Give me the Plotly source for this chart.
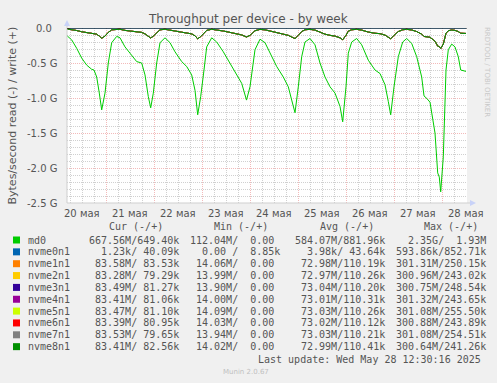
import plotly.graph_objects as go
import pandas as pd

# ---------------- data ----------------
start_time = "2025-05-20 04:30"
end_time = "2025-05-28 12:30"

hours = [0, 2.35, 4.85, 7.35, 9.85, 12.35, 13.5, 14.85, 16.15, 17.35,
         19, 20.65, 22.35, 24.85, 26.5, 29, 31.5, 34.85, 37.35, 39,
         40.65, 41.85, 43.15, 44.85, 46.5, 49, 51.5, 54, 57.35, 59.85,
         62.35, 64, 65.35, 66.85, 68.5, 69.85, 72.35, 74.85, 78.15, 81.5,
         84, 87.35, 89.75, 91.5, 94, 96.5, 99, 102.25, 104.85, 108.15,
         110.65, 112.35, 114, 115.65, 117.35, 119, 121.5, 124, 126.5, 129,
         131.5, 134, 136.5, 137.85, 139.5, 140.65, 142.35, 144.85, 147.35, 150.65,
         154, 156.5, 159, 160.65, 161.85, 163.5, 165.65, 167.85, 169.85, 172.35,
         174.85, 177.35, 178.5, 180, 181.5, 184, 185.35, 186.15, 186.85, 188.15,
         188.85, 189.5, 190.65, 192.35, 194, 195.65, 196.85, 198.15, 199.5]

# read throughput in G bytes/s (negative = read)
md0_read = [-0.11, -0.17, -0.29, -0.43, -0.53, -0.59, -0.60, -0.70, -0.93, -1.17,
            -0.93, -0.50, -0.21, -0.12, -0.14, -0.27, -0.36, -0.48, -0.50, -0.67,
            -0.98, -1.14, -0.93, -0.50, -0.21, -0.14, -0.21, -0.34, -0.48, -0.55,
            -0.67, -0.89, -1.24, -0.98, -0.60, -0.27, -0.14, -0.20, -0.34, -0.50,
            -0.62, -0.79, -1.03, -0.84, -0.31, -0.16, -0.21, -0.40, -0.55, -0.70,
            -0.84, -1.03, -1.21, -0.84, -0.41, -0.20, -0.15, -0.24, -0.50, -0.70,
            -0.84, -0.93, -1.12, -1.34, -0.84, -0.36, -0.20, -0.15, -0.24, -0.46,
            -0.60, -0.65, -0.81, -1.05, -1.24, -0.84, -0.41, -0.20, -0.15, -0.22,
            -0.41, -0.70, -0.97, -1.01, -1.06, -1.50, -2.07, -2.13, -2.34, -1.84,
            -1.03, -0.60, -0.31, -0.23, -0.27, -0.41, -0.60, -0.61, -0.62]

nvme_read = [-0.014, -0.021, -0.036, -0.054, -0.066, -0.074, -0.075, -0.088, -0.116, -0.146,
             -0.116, -0.063, -0.026, -0.015, -0.018, -0.034, -0.045, -0.060, -0.063, -0.084,
             -0.123, -0.143, -0.116, -0.063, -0.026, -0.018, -0.026, -0.043, -0.060, -0.069,
             -0.084, -0.111, -0.155, -0.123, -0.075, -0.034, -0.018, -0.025, -0.043, -0.063,
             -0.078, -0.099, -0.129, -0.105, -0.039, -0.020, -0.026, -0.050, -0.069, -0.088,
             -0.105, -0.129, -0.151, -0.105, -0.051, -0.025, -0.019, -0.030, -0.063, -0.088,
             -0.105, -0.116, -0.140, -0.168, -0.105, -0.045, -0.025, -0.019, -0.030, -0.058,
             -0.075, -0.081, -0.101, -0.131, -0.155, -0.105, -0.051, -0.025, -0.019, -0.028,
             -0.051, -0.088, -0.121, -0.126, -0.133, -0.188, -0.259, -0.266, -0.293, -0.230,
             -0.129, -0.075, -0.039, -0.029, -0.034, -0.051, -0.075, -0.076, -0.078]

nvme0_hours = [0, 199.5]
nvme0_read = [0.0, 0.0]

devices = ["md0", "nvme0n1", "nvme1n1", "nvme2n1", "nvme3n1", "nvme4n1",
           "nvme5n1", "nvme6n1", "nvme7n1", "nvme8n1"]
colors = ["#00CC00", "#0066B3", "#FF8000", "#FFCC00", "#330099", "#990099",
          "#CCFF00", "#FF0000", "#808080", "#008F00"]

cur_vals = ["667.56M/649.40k", "  1.23k/ 40.09k", " 83.58M/ 83.53k", " 83.28M/ 79.29k",
            " 83.49M/ 81.27k", " 83.41M/ 81.06k", " 83.47M/ 81.10k", " 83.39M/ 80.95k",
            " 83.53M/ 79.65k", " 83.41M/ 82.56k"]
min_vals = ["112.04M/  0.00 ", "  0.00 /  8.85k", " 14.06M/  0.00 ", " 13.99M/  0.00 ",
            " 13.90M/  0.00 ", " 14.00M/  0.00 ", " 14.09M/  0.00 ", " 14.03M/  0.00 ",
            " 13.94M/  0.00 ", " 14.02M/  0.00 "]
avg_vals = ["584.07M/881.96k", "  3.98k/ 43.64k", " 72.98M/110.19k", " 72.97M/110.26k",
            " 73.04M/110.20k", " 73.01M/110.31k", " 73.03M/110.26k", " 73.02M/110.12k",
            " 73.03M/110.21k", " 72.99M/110.41k"]
max_vals = ["  2.35G/  1.93M", "593.86k/852.71k", "301.31M/250.15k", "300.96M/243.02k",
            "300.75M/248.54k", "301.32M/243.65k", "301.08M/255.50k", "300.88M/243.89k",
            "301.08M/254.51k", "300.64M/241.26k"]
col_headers = ["Cur (-/+)", "Min (-/+)", "Avg (-/+)", "Max (-/+)"]

day_labels = ["20 мая", "21 мая", "22 мая", "23 мая", "24 мая", "25 мая",
              "26 мая", "27 мая", "28 мая"]
day_label_times = ["2025-05-20 12:00", "2025-05-21 12:00", "2025-05-22 12:00",
                   "2025-05-23 12:00", "2025-05-24 12:00", "2025-05-25 12:00",
                   "2025-05-26 12:00", "2025-05-27 12:00", "2025-05-28 12:00"]
y_tick_vals = [0.0, -0.5, -1.0, -1.5, -2.0, -2.5]
y_tick_text = ["0.0", "-0.5 G", "-1.0 G", "-1.5 G", "-2.0 G", "-2.5 G"]

title = "Throughput per device - by week"
y_title = "Bytes/second read (-) / write (+)"
last_update = "Last update: Wed May 28 12:30:16 2025"
watermark = "RRDTOOL / TOBI OETIKER"
footer = "Munin 2.0.67"

# ---------------- geometry helpers ----------------
W, H = 497, 383
L, R, T, B = 67, 467, 28, 203  # plot area in pixels


def px(x):
    return (x - L) / (R - L)


def py(y):
    return (B - y) / (B - T)


def nb(s):
    return s.replace(" ", "\u00a0")


t0 = pd.Timestamp(start_time)
times = t0 + pd.to_timedelta(hours, unit="h")
times0 = t0 + pd.to_timedelta(nvme0_hours, unit="h")

fig = go.Figure()

# md0
fig.add_trace(go.Scatter(x=times, y=md0_read, mode="lines",
                         line=dict(color=colors[0], width=1), name=devices[0]))
# nvme0n1 (practically zero)
fig.add_trace(go.Scatter(x=times0, y=nvme0_read, mode="lines",
                         line=dict(color=colors[1], width=1), name=devices[1]))
# nvme1n1..nvme8n1 (overlapping)
for i in range(2, 10):
    fig.add_trace(go.Scatter(x=times, y=nvme_read, mode="lines",
                             line=dict(color=colors[i], width=1), name=devices[i]))

annotations = []
shapes = []

# title
annotations.append(dict(text=title, x=px(248), y=py(19), xref="paper", yref="paper",
                        xanchor="center", yanchor="middle", showarrow=False,
                        font=dict(family="DejaVu Sans", size=12, color="#555555")))
# y title
annotations.append(dict(text=y_title, x=px(12), y=py(115.5), xref="paper", yref="paper",
                        xanchor="center", yanchor="middle", showarrow=False, textangle=-90,
                        font=dict(family="DejaVu Sans", size=11, color="#555555")))
# watermark
annotations.append(dict(text=watermark, x=px(487), y=py(25), xref="paper", yref="paper",
                        xanchor="center", yanchor="top", showarrow=False, textangle=90,
                        font=dict(family="DejaVu Sans", size=7, color="#C8C8C8")))
# y tick labels
for v, t in zip(y_tick_vals, y_tick_text):
    annotations.append(dict(text=nb(t), x=px(58.5), y=v, xref="paper", yref="y",
                            xanchor="right", yanchor="middle", showarrow=False,
                            xshift=0 if "G" in t else -5,
                            font=dict(family="DejaVu Sans", size=10, color="#555555")))
# x day labels
for t, lab in zip(day_label_times, day_labels):
    annotations.append(dict(text=lab, x=t, y=py(213), xref="x", yref="paper",
                            xanchor="center", yanchor="middle", showarrow=False,
                            font=dict(family="DejaVu Sans", size=10, color="#555555")))

mono = dict(family="DejaVu Sans Mono", size=10, color="#555555")
# headers
for hx, h in zip([107, 212, 318, 422], col_headers):
    annotations.append(dict(text=nb(h), x=px(hx), y=py(226.5), xref="paper", yref="paper",
                            xanchor="left", yanchor="middle", showarrow=False, font=mono))
# legend rows
col_x = [87, 187.5, 292.5, 393.5]
for i, name in enumerate(devices):
    yy = 240 + i * 11.85
    shapes.append(dict(type="rect", xref="paper", yref="paper",
                       x0=px(13), x1=px(20), y0=py(yy - 3.5), y1=py(yy + 3.5),
                       fillcolor=colors[i], line=dict(width=0)))
    annotations.append(dict(text=name, x=px(26), y=py(yy), xref="paper", yref="paper",
                            xanchor="left", yanchor="middle", showarrow=False, font=mono))
    for cx, vals in zip(col_x, [cur_vals, min_vals, avg_vals, max_vals]):
        annotations.append(dict(text=nb(vals[i]), x=px(cx), y=py(yy), xref="paper",
                                yref="paper", xanchor="left", yanchor="middle",
                                showarrow=False, font=mono))
annotations.append(dict(text=nb(last_update), x=px(483), y=py(359.5), xref="paper",
                        yref="paper", xanchor="right", yanchor="middle", showarrow=False,
                        font=mono))
annotations.append(dict(text=footer, x=px(246), y=py(372), xref="paper", yref="paper",
                        xanchor="center", yanchor="middle", showarrow=False,
                        font=dict(family="DejaVu Sans", size=7, color="#C0C0C0")))

# axis lines and arrows
axis_col = "#CFCFCF"
shapes.append(dict(type="line", xref="paper", yref="paper", x0=px(L), x1=px(L),
                   y0=py(B), y1=py(24), line=dict(color=axis_col, width=1), layer="above"))
shapes.append(dict(type="line", xref="paper", yref="paper", x0=px(L), x1=px(471),
                   y0=py(B), y1=py(B), line=dict(color=axis_col, width=1), layer="above"))
arrow_col = "#C8D2F8"
shapes.append(dict(type="path", xref="paper", yref="paper",
                   path=f"M {px(64)} {py(26)} L {px(70)} {py(26)} L {px(67)} {py(20)} Z",
                   fillcolor=arrow_col, line=dict(width=0), layer="above"))
shapes.append(dict(type="path", xref="paper", yref="paper",
                   path=f"M {px(470)} {py(200)} L {px(470)} {py(206)} L {px(476)} {py(203)} Z",
                   fillcolor=arrow_col, line=dict(width=0), layer="above"))
# zero line
shapes.append(dict(type="line", xref="paper", yref="y", x0=0, x1=1, y0=0, y1=0,
                   line=dict(color="#000000", width=1), layer="above"))

major_grid = "rgba(235,140,140,0.6)"
minor_grid = "rgba(170,170,170,0.55)"

fig.update_layout(
    width=W, height=H,
    margin=dict(l=L, r=W - R, t=T, b=H - B),
    paper_bgcolor="#F0F0F0", plot_bgcolor="#FFFFFF",
    showlegend=False,
    annotations=annotations, shapes=shapes,
    xaxis=dict(type="date", range=[start_time, end_time], showticklabels=False,
               ticks="", tick0="2025-05-21 00:00", dtick=86400000,
               showgrid=True, gridcolor=major_grid, griddash="1px,1px", gridwidth=1,
               minor=dict(dtick=21600000, tick0="2025-05-21 00:00", showgrid=True,
                          gridcolor=minor_grid, griddash="1px,1px", gridwidth=1),
               zeroline=False, showline=False, fixedrange=True),
    yaxis=dict(range=[-2.5, 0], showticklabels=False, ticks="", tick0=0, dtick=0.5,
               showgrid=True, gridcolor=major_grid, griddash="1px,1px", gridwidth=1,
               minor=dict(dtick=0.1, showgrid=True, gridcolor=minor_grid,
                          griddash="1px,1px", gridwidth=1),
               zeroline=False, showline=False, fixedrange=True),
)

fig.write_html("out.html")
